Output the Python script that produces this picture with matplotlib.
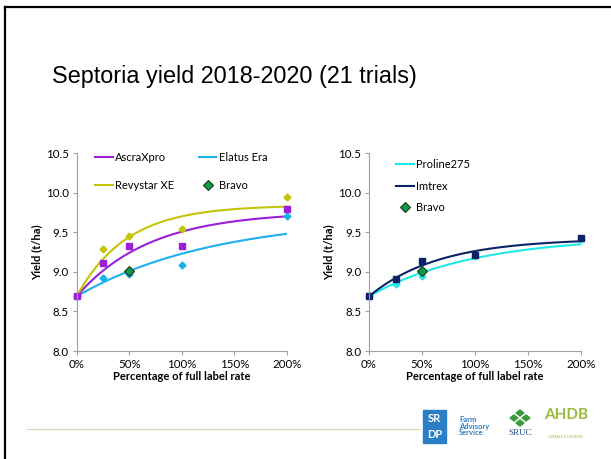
import numpy as np
import matplotlib
matplotlib.use("Agg")
import matplotlib.pyplot as plt
from matplotlib.patches import Rectangle, Polygon
from matplotlib.lines import Line2D

plt.rcParams['font.family'] = ['Lato', 'DejaVu Sans']

#%% data

rates = [0, 25, 50, 100, 200]          # % of full label rate

# left chart
ascra_pts = [8.69, 9.11, 9.32, 9.33, 9.79]
elatus_pts = [8.69, 8.92, 8.97, 9.08, 9.70]
revystar_pts = [8.69, 9.29, 9.45, 9.54, 9.94]

# right chart
proline_pts = [8.69, 8.85, 8.95, 9.20, 9.42]
imtrex_pts = [8.69, 8.91, 9.14, 9.21, 9.43]

bravo_rate = [50]
bravo_pts = [9.01]

# trendline parameters, y = A - B*exp(-k*x)
ascra_fit = [9.76, 1.07, 0.01443]
elatus_fit = [9.70, 1.01, 0.00762]
revystar_fit = [9.84, 1.15, 0.0211]
proline_fit = [9.45, 0.76, 0.01005]
imtrex_fit = [9.42, 0.73, 0.01527]

x_ticks = [0, 50, 100, 150, 200]
x_ticklabels = ['0%', '50%', '100%', '150%', '200%']
y_ticks = [8.0, 8.5, 9.0, 9.5, 10.0, 10.5]

c_ascra = '#9b1fd6'
c_elatus = '#1cb0ec'
c_revy = '#c4c40a'
c_proline = '#1ee8e8'
c_imtrex = '#0c2266'
c_bravo = '#109a4c'
grey = '#a0a0a0'


def trend(p, x):
    A, B, k = p
    return A - B * np.exp(-k * x)


def style_axes(ax):
    ax.set_xlim(0, 200)
    ax.set_ylim(8.0, 10.5)
    ax.set_xticks(x_ticks)
    ax.set_xticklabels(x_ticklabels)
    ax.set_yticks(y_ticks)
    ax.set_yticklabels(['%.1f' % v for v in y_ticks])
    for s in ['top', 'right']:
        ax.spines[s].set_visible(False)
    for s in ['left', 'bottom']:
        ax.spines[s].set_color(grey)
        ax.spines[s].set_linewidth(0.8)
    ax.tick_params(colors=grey, labelcolor='black', labelsize=8.3, length=3, width=0.8,
                   direction='out', pad=2.5)
    ax.set_xlabel('Percentage of full label rate', fontsize=8, fontweight='bold', labelpad=1)
    ax.set_ylabel('Yield (t/ha)', fontsize=8, fontweight='bold', labelpad=3)


fig = plt.figure(figsize=(6.11, 4.59), dpi=100)

# slide frame
fig.add_artist(Line2D([5 / 611, 5 / 611], [0, 1 - 7 / 459], color='black', lw=1.6))
fig.add_artist(Line2D([5 / 611, 1], [1 - 7 / 459, 1 - 7 / 459], color='black', lw=1.6))

fig.text(52 / 611, 1 - 76 / 459, 'Septoria yield 2018-2020 (21 trials)', fontsize=16.8,
         family='Liberation Sans', va='center', ha='left')

xs = np.linspace(0, 200, 200)

#%% left chart
ax1 = fig.add_axes([76.7 / 611, 1 - 351 / 459, 210.3 / 611, 198 / 459])
ax1.plot(xs, trend(elatus_fit, xs), color=c_elatus, lw=1.5)
ax1.plot(xs, trend(ascra_fit, xs), color=c_ascra, lw=1.5)
ax1.plot(xs, trend(revystar_fit, xs), color=c_revy, lw=1.5)
ax1.plot(rates, elatus_pts, 'D', color=c_elatus, ms=3.5, ls='none', clip_on=False)
ax1.plot(rates, revystar_pts, 'D', color=c_revy, ms=3.5, ls='none', clip_on=False)
ax1.plot(rates, ascra_pts, 's', color=c_ascra, ms=5, ls='none', clip_on=False)
ax1.plot(bravo_rate, bravo_pts, 'D', color=c_bravo, mec='#1a3a1a', mew=0.8, ms=5.5, ls='none')
style_axes(ax1)

h1 = [Line2D([], [], color=c_ascra, lw=1.5), Line2D([], [], color=c_revy, lw=1.5),
      Line2D([], [], color=c_elatus, lw=1.5),
      Line2D([], [], marker='D', color=c_bravo, mec='#1a3a1a', mew=0.8, ms=5.5, ls='none')]
ax1.legend(h1, ['AscraXpro', 'Revystar XE', 'Elatus Era', 'Bravo'], ncol=2, frameon=False,
           fontsize=8, loc='upper left', bbox_to_anchor=(0.04, 1.055), handlelength=1.6,
           handletextpad=0.2, columnspacing=2.2, labelspacing=1.5)

#%% right chart
ax2 = fig.add_axes([369 / 611, 1 - 351 / 459, 212 / 611, 198 / 459])
ax2.plot(xs, trend(proline_fit, xs), color=c_proline, lw=1.5)
ax2.plot(xs, trend(imtrex_fit, xs), color=c_imtrex, lw=1.5)
ax2.plot(rates, proline_pts, 'D', color=c_proline, ms=3.5, ls='none', clip_on=False)
ax2.plot(rates, imtrex_pts, 's', color=c_imtrex, ms=5, ls='none', clip_on=False)
ax2.plot(bravo_rate, bravo_pts, 'D', color=c_bravo, mec='#1a3a1a', mew=0.8, ms=5.5, ls='none')
style_axes(ax2)

h2 = [Line2D([], [], color=c_proline, lw=1.5), Line2D([], [], color=c_imtrex, lw=1.5),
      Line2D([], [], marker='D', color=c_bravo, mec='#1a3a1a', mew=0.8, ms=5.5, ls='none')]
ax2.legend(h2, ['Proline275', 'Imtrex', 'Bravo'], frameon=False, fontsize=8,
           loc='upper left', bbox_to_anchor=(0.08, 1.02), handlelength=1.6,
           handletextpad=0.2, labelspacing=0.95)

#%% footer: rule + logos (rough)
fig.add_artist(Line2D([27 / 611, 420 / 611], [1 - 429 / 459] * 2, color='#d8d8b4', lw=0.8))

fx = lambda px: px / 611
fy = lambda py: 1 - py / 459
fig.add_artist(Rectangle((fx(423), fy(443)), 23 / 611, 33 / 459, color='#2a7fc6'))
fig.text(fx(434.5), fy(419), 'SR', color='white', fontsize=8, fontweight='bold', ha='center', va='center')
fig.text(fx(434.5), fy(434), 'DP', color='white', fontsize=8, fontweight='bold', ha='center', va='center')
fig.text(fx(459), fy(426), 'Farm\nAdvisory\nService', color='#2a7fc6', fontsize=5.5, fontweight='bold',
         ha='left', va='center', linespacing=0.9)
for dx, dy in [(0, -5), (-6, 0), (6, 0), (0, 5)]:
    cx, cy = 520 + dx, 418 + dy
    fig.add_artist(Polygon([(fx(cx), fy(cy - 3)), (fx(cx + 4), fy(cy)), (fx(cx), fy(cy + 3)),
                            (fx(cx - 4), fy(cy))], color='#3c9a3c'))
fig.text(fx(520), fy(433), 'SRUC', color='#1e4e8c', fontsize=6.5, family='Liberation Serif',
         ha='center', va='center')
fig.text(fx(566), fy(415), 'AHDB', color='#9ab83a', fontsize=11, fontweight='bold', ha='center', va='center')
fig.text(fx(566), fy(437), 'CEREALS & OILSEEDS', color='#9ab83a', fontsize=2.5, ha='center', va='center')

fig.savefig('out.png', dpi=100)
